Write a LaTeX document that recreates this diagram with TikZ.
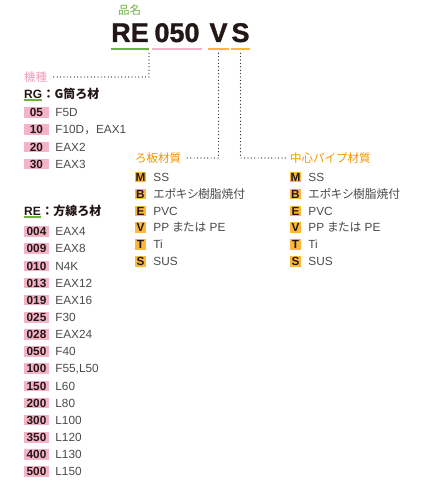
\documentclass[tikz,border=0pt]{standalone}
\usepackage{fontspec}
\setmainfont{Liberation Sans}
\newfontfamily\jp{Noto Sans CJK JP}
\newfontfamily\jpp[RawFeature=+palt]{Noto Sans CJK JP}
\newfontfamily\kheavy[FakeBold=1.2]{Liberation Sans Bold}
\usetikzlibrary{positioning}
\definecolor{kgreen}{HTML}{6DB33F}
\definecolor{kpink}{HTML}{F5B3C7}
\definecolor{kpinktxt}{HTML}{F29CB9}
\definecolor{korange}{HTML}{FBB83A}
\definecolor{khead}{HTML}{F39200}
\definecolor{kgray}{HTML}{4A4A4A}
\definecolor{kblack}{HTML}{231815}
\tikzset{
  dotline/.style={line width=1.2pt,dash pattern=on 0pt off 3.4pt,line cap=round,kblack},
  codebox/.style={fill=#1,minimum width=25pt,minimum height=10.5pt,inner sep=0pt,
    text height=8.5pt,text depth=0pt,text=kblack,font=\fontsize{11.8}{12}\selectfont\bfseries},
  itemtxt/.style={inner sep=0pt,text height=8.5pt,text depth=0pt,text=kgray,
    font=\fontsize{11.8}{13}\selectfont},
  headtxt/.style={anchor=west,inner sep=0pt,text=#1,font=\jp\fontsize{11.5}{13}\selectfont},
  titlepart/.style={anchor=base,inner sep=0pt,text depth=7pt,minimum width=#1,text=kblack,
    font=\kheavy\fontsize{27}{27}\selectfont},
  kindtxt/.style={anchor=west,inner sep=0pt,text=kblack,font=\fontsize{12}{13}\selectfont\bfseries}
}
\begin{document}
\begin{tikzpicture}[x=1pt,y=-1pt]
\useasboundingbox (0,0) rectangle (420,481);
\pgfmathsetmacro{\kstep}{17.15}
\pgfmathsetmacro{\kmstep}{16.9}
% title
\node[headtxt=kgreen] (hinmei) at (118,10) {品名};
\node[titlepart=36pt] (re) at (130,42) {RE};
\node[titlepart=50pt] (num) at (177,42) {050};
\node[titlepart=21pt] (pv) at (218.5,42) {V};
\node[titlepart=17pt] (ps) at (240.5,42) {S};
\draw[kgreen,line width=2pt](re.south west)--(re.south east);
\draw[kpink,line width=2pt](num.south west)--(num.south east);
\draw[korange,line width=2pt](pv.south west)--(pv.south east);
\draw[korange,line width=2pt](ps.south west)--(ps.south east);
% headings
\node[headtxt=kpinktxt] (kishu) at (24,77) {機種};
\node[headtxt=khead] (itahead) at (135,158) {ろ板材質};
\node[headtxt=khead] (pipehead) at (290,158) {中心パイプ材質};
\draw[dotline]([yshift=-4pt]re.south east)|-([xshift=3pt]kishu.east);
\draw[dotline]([yshift=-4pt]pv.south)|-([xshift=3pt]itahead.east);
\draw[dotline]([yshift=-4pt]ps.south)|-([xshift=-3pt]pipehead.west);
% RG
\node[kindtxt] (rg) at (24,94) {RG};
\node[kindtxt,right=0pt of rg,font=\jp\fontsize{12}{13}\selectfont\bfseries] (rgname) {：G筒ろ材};
\draw[kgreen,line width=1.5pt]([yshift=-1.5pt]rg.south west)--([yshift=-1.5pt]rg.south east);
\foreach \kc/\klb [count=\ki] in {05/F5D,10/{F10D{\jp ，}EAX1},20/EAX2,30/EAX3}{
  \node[codebox=kpink] (rgc\ki) at (36.5,112.5+\ki*\kstep-\kstep) {\kc};
  \node[itemtxt,right=6pt of rgc\ki] (rgt\ki) {\klb};
}
% RE
\node[kindtxt] (rek) at (24,211) {RE};
\node[kindtxt,right=0pt of rek,font=\jp\fontsize{12}{13}\selectfont\bfseries] (rekname) {：方線ろ材};
\draw[kgreen,line width=1.5pt]([yshift=-1.5pt]rek.south west)--([yshift=-1.5pt]rek.south east);
\foreach \kc/\klb [count=\ki] in {004/EAX4,009/EAX8,010/N4K,013/EAX12,019/EAX16,025/F30,
  028/EAX24,050/F40,100/{F55,L50},150/L60,200/L80,300/L100,350/L120,400/L130,500/L150}{
  \node[codebox=kpink] (rec\ki) at (36.5,231.5+\ki*\kstep-\kstep) {\kc};
  \node[itemtxt,right=6pt of rec\ki] (ret\ki) {\klb};
}
% materials
\foreach \kc/\klb [count=\ki] in {M/SS,B/{{\jpp エポキシ樹脂焼付}},E/PVC,V/{PP {\jpp または} PE},T/Ti,S/SUS}{
  \node[codebox=korange,minimum width=11pt] (itac\ki) at (140.5,177+\ki*\kmstep-\kmstep) {\kc};
  \node[itemtxt,right=7pt of itac\ki] (itat\ki) {\klb};
  \node[codebox=korange,minimum width=11pt] (pipec\ki) at (295.5,177+\ki*\kmstep-\kmstep) {\kc};
  \node[itemtxt,right=7pt of pipec\ki] (pipet\ki) {\klb};
}
\end{tikzpicture}
\end{document}
